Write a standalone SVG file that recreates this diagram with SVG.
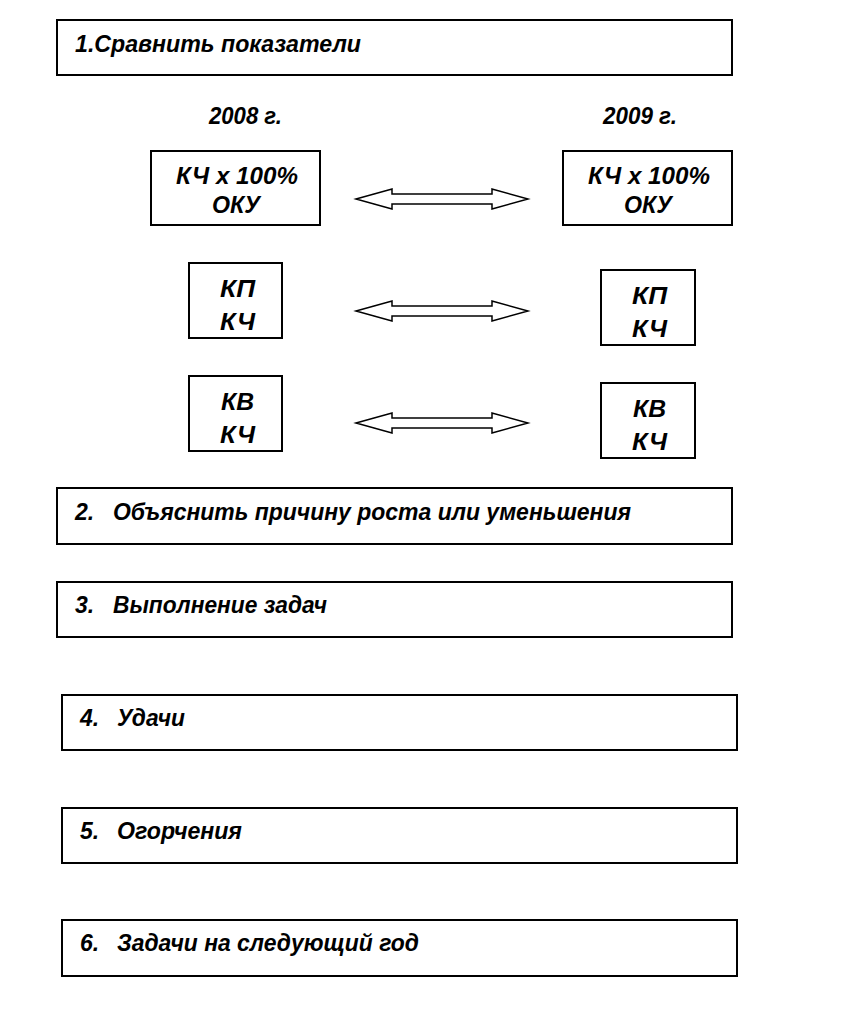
<svg xmlns="http://www.w3.org/2000/svg" width="846" height="1033" viewBox="0 0 846 1033">
<defs>
<style>
.box{fill:#fff;stroke:#000;stroke-width:2}
.t{font-family:"Liberation Sans Narrow","Liberation Sans","Arial Narrow",Arial,sans-serif;font-style:italic;font-weight:bold;font-size:23px;fill:#000}
.c{text-anchor:middle}
.arr{fill:#fff;stroke:#000;stroke-width:1.5;stroke-linejoin:miter}
</style>
<polygon id="dblarrow" class="arr" points="0,0 36,-10 36,-5 136,-5 136,-10 172,0 136,10 136,5 36,5 36,10"/>
</defs>
<rect width="846" height="1033" fill="#fff"/>

<g id="step1">
<rect class="box" x="57" y="20" width="675" height="55"/>
<text class="t" x="75" y="52" textLength="286" lengthAdjust="spacingAndGlyphs">1.Сравнить показатели</text>
</g>

<g id="year2008"><text class="t" x="209" y="124" textLength="73" lengthAdjust="spacingAndGlyphs">2008 г.</text></g>
<g id="year2009"><text class="t" x="603" y="124" textLength="74" lengthAdjust="spacingAndGlyphs">2009 г.</text></g>

<g id="l1">
<rect class="box" x="151" y="151" width="169" height="74"/>
<text class="t" x="176" y="184" textLength="122" lengthAdjust="spacingAndGlyphs">КЧ х 100%</text>
<text class="t" x="212" y="213" textLength="48" lengthAdjust="spacingAndGlyphs">ОКУ</text>
</g>
<g id="r1">
<rect class="box" x="563" y="151" width="169" height="74"/>
<text class="t" x="588" y="184" textLength="122" lengthAdjust="spacingAndGlyphs">КЧ х 100%</text>
<text class="t" x="624" y="213" textLength="48" lengthAdjust="spacingAndGlyphs">ОКУ</text>
</g>
<g id="l2">
<rect class="box" x="189" y="263" width="93" height="75"/>
<text class="t" x="220" y="297" textLength="35" lengthAdjust="spacingAndGlyphs">КП</text>
<text class="t" x="220" y="330" textLength="35" lengthAdjust="spacingAndGlyphs">КЧ</text>
</g>
<g id="r2">
<rect class="box" x="601" y="270" width="94" height="75"/>
<text class="t" x="632" y="304" textLength="35" lengthAdjust="spacingAndGlyphs">КП</text>
<text class="t" x="632" y="337" textLength="35" lengthAdjust="spacingAndGlyphs">КЧ</text>
</g>
<g id="l3">
<rect class="box" x="189" y="376" width="93" height="75"/>
<text class="t" x="221" y="410" textLength="33" lengthAdjust="spacingAndGlyphs">КВ</text>
<text class="t" x="220" y="443" textLength="35" lengthAdjust="spacingAndGlyphs">КЧ</text>
</g>
<g id="r3">
<rect class="box" x="601" y="383" width="94" height="75"/>
<text class="t" x="633" y="417" textLength="33" lengthAdjust="spacingAndGlyphs">КВ</text>
<text class="t" x="632" y="450" textLength="35" lengthAdjust="spacingAndGlyphs">КЧ</text>
</g>

<g id="connectors">
<use href="#dblarrow" x="356" y="199"/>
<use href="#dblarrow" x="356" y="311"/>
<use href="#dblarrow" x="356" y="423"/>
</g>

<g id="step2">
<rect class="box" x="57" y="488" width="675" height="56"/>
<text class="t" x="75" y="520">2.</text>
<text class="t" x="113" y="520" textLength="518" lengthAdjust="spacingAndGlyphs">Объяснить причину роста или уменьшения</text>
</g>
<g id="step3">
<rect class="box" x="57" y="582" width="675" height="55"/>
<text class="t" x="75" y="613">3.</text>
<text class="t" x="113" y="613" textLength="214" lengthAdjust="spacingAndGlyphs">Выполнение задач</text>
</g>
<g id="step4">
<rect class="box" x="62" y="695" width="675" height="55"/>
<text class="t" x="80" y="726">4.</text>
<text class="t" x="117" y="726" textLength="68" lengthAdjust="spacingAndGlyphs">Удачи</text>
</g>
<g id="step5">
<rect class="box" x="62" y="808" width="675" height="55"/>
<text class="t" x="80" y="839">5.</text>
<text class="t" x="117" y="839" textLength="125" lengthAdjust="spacingAndGlyphs">Огорчения</text>
</g>
<g id="step6">
<rect class="box" x="62" y="920" width="675" height="56"/>
<text class="t" x="80" y="951">6.</text>
<text class="t" x="117" y="951" textLength="302" lengthAdjust="spacingAndGlyphs">Задачи на следующий год</text>
</g>
</svg>
